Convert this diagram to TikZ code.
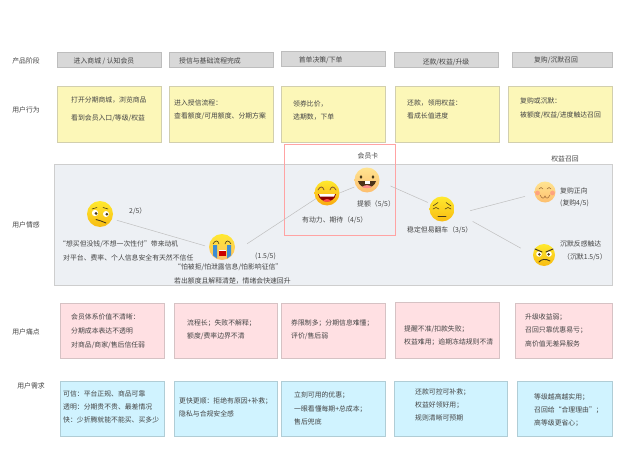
\documentclass[tikz,border=0pt]{standalone}
\usepackage{fontspec}
\setmainfont{Noto Sans CJK SC}
\definecolor{phasefill}{HTML}{D8D8D8}
\definecolor{phaseline}{HTML}{BDBDBD}
\definecolor{yel}{HTML}{FCF7B8}
\definecolor{yelline}{HTML}{D2CFAE}
\definecolor{pnk}{HTML}{FFE0E3}
\definecolor{pnkline}{HTML}{D6C2C4}
\definecolor{blu}{HTML}{D0F3FF}
\definecolor{blueline}{HTML}{B0CDD6}
\definecolor{panel}{HTML}{EDF0F4}
\definecolor{panelline}{HTML}{CECECE}
\definecolor{redframe}{HTML}{FFA3A3}
\definecolor{ink}{HTML}{444444}
\definecolor{faceink}{HTML}{4A3A18}
\definecolor{ytop}{HTML}{FFE92E}
\definecolor{ybot}{HTML}{F8BC12}
\definecolor{ptop}{HTML}{FFE490}
\definecolor{pbot}{HTML}{FDBE6E}
\tikzset{
  x=1pt,y=-1pt,
  tagtext/.style={font=\fontsize{6.85}{8}\selectfont,text=ink,inner sep=0pt,anchor=west},
  ctext/.style={font=\fontsize{6.85}{8}\selectfont,text=ink,inner sep=0pt},
  boxphase/.style={draw=phaseline,fill=phasefill,line width=.7pt},
  boxyel/.style={draw=yelline,fill=yel,line width=.7pt},
  boxpnk/.style={draw=pnkline,fill=pnk,line width=.7pt},
  boxblu/.style={draw=blueline,fill=blu,line width=.7pt},
  conn/.style={draw=black!25,line width=.5pt},
  facebase/.style={circle,inner sep=0pt,outer sep=0pt,minimum size=#1},
  yface/.style={facebase=#1,top color=ytop,bottom color=ybot},
  pface/.style={facebase=#1,top color=ptop,bottom color=pbot},
  fline/.style={draw=faceink,line width=.6pt,line cap=round}
}
\begin{document}
\begin{tikzpicture}
\useasboundingbox (0,0) rectangle (620,449);
\fill[white] (0,0) rectangle (620,449);
% row labels
\node[ctext] (lphase) at (26,61) {产品阶段};
\node[ctext] (lact) at (26,110) {用户行为};
\node[ctext] (lemo) at (26,225) {用户情感};
\node[ctext] (lpain) at (26,332) {用户痛点};
\node[ctext] (lneed) at (31,386) {用户需求};
% phases
\draw[boxphase] (57,52.5) rectangle (161,67.5);
\draw[boxphase] (169,52.5) rectangle (273,67.5);
\draw[boxphase] (281,51) rectangle (385,66.7);
\draw[boxphase] (394,52.5) rectangle (498,67.5);
\draw[boxphase] (512,52.5) rectangle (612,67.5);
\node[ctext] (p1) at (104,61) {进入商城 / 认知会员};
\node[ctext] (p2) at (210,60.5) {授信与基础流程完成};
\node[ctext] (p3) at (320.7,60) {首单决策/下单};
\node[ctext] (p4) at (446,62) {还款/权益/升级};
\node[ctext] (p5) at (556,60.5) {复购/沉默召回};
% behaviour
\draw[boxyel] (57,86.7) rectangle (161,142);
\draw[boxyel] (169,86.7) rectangle (273,142);
\draw[boxyel] (281.5,86.7) rectangle (385.5,142);
\draw[boxyel] (395,86.7) rectangle (499,142);
\draw[boxyel] (508,86.7) rectangle (612,142);
\node[tagtext] (b1a) at (71,100) {打开分期商城，浏览商品};
\node[tagtext] (b1b) at (71,118) {看到会员入口/等级/权益};
\node[tagtext] (b2a) at (174,103) {进入授信流程：};
\node[tagtext] (b2b) at (174,116) {查看额度/可用额度、分期方案};
\node[tagtext] (b3a) at (293,104) {领券比价，};
\node[tagtext] (b3b) at (293,117) {选期数，下单};
\node[tagtext] (b4a) at (407,103) {还款，领用权益：};
\node[tagtext] (b4b) at (407,116) {看成长值进度};
\node[tagtext] (b5a) at (520,101) {复购或沉默：};
\node[tagtext] (b5b) at (520,115) {被额度/权益/进度触达召回};
% emotion panel
\draw[draw=panelline,fill=panel,line width=.7pt] (54.5,164.5) rectangle (612,285);
\draw[draw=redframe,line width=.8pt] (284.5,144.5) rectangle (395,235);
% faces
\node[yface=26] (f1) at (100,214) {};
\node[pface=26,top color=ytop] (f2) at (222,247) {};
\node[yface=25,top color=ytop,bottom color=ybot!90!red] (f3) at (327,193) {};
\node[pface=25] (f4) at (367,180) {};
\node[yface=25] (f5) at (442,209) {};
\node[pface=21] (f6) at (545,192) {};
\node[yface=22] (f7) at (544,255) {};
% connectors
\draw[conn,shorten <=5pt,shorten >=4pt] (f1.-22) -- (f2.180);
\draw[conn,shorten <=16pt] (f2.-25) -- (f3.207);
\draw[conn,shorten <=1pt,shorten >=2pt] (f3.0) -- (f4.210);
\draw[conn,shorten <=12pt,shorten >=3pt] (f4.-5) -- (f5.155);
\draw[conn,shorten <=18pt,shorten >=10pt] (f5.-30) -- (f6.190);
\draw[conn,shorten <=21pt,shorten >=14pt] (f5.-10) -- (f7.180);
% face 1: skeptical
\begin{scope}[shift={(f1)}]
  \fill[white] (-5,-1) circle (3.2) (6,0) circle (3);
  \fill[faceink] (-4,-.6) circle (1.6) (6.8,.2) circle (1.5);
  \draw[fline] (-8,-5) -- (-3,-6.5) (3,-6.5) -- (8,-5);
  \draw[fline,line width=.9pt] (-4,5.5) -- (1,7) -- (6,9);
\end{scope}
% face 2: crying
\begin{scope}[shift={(f2)}]
  \fill[cyan!60!blue!80] (-9,-2) -- (-5,-2) -- (-5,11.5) -- (-9,8.5) -- cycle;
  \fill[cyan!60!blue!80] (5,-2) -- (9,-2) -- (9,8.5) -- (5,11.5) -- cycle;
  \draw[fline] (-9,-3) .. controls (-7,-7) and (-4,-7) .. (-3,-3);
  \draw[fline] (3,-3) .. controls (4,-7) and (7,-7) .. (9,-3);
  \fill[red!80!black] (-3.5,2.5) rectangle (3.5,9);
  \fill[white] (-3.5,2.5) rectangle (3.5,4);
\end{scope}
% face 3: laughing
\begin{scope}[shift={(f3)}]
  \draw[fline,draw=brown!70!black,line width=.8pt] (-9,-3) .. controls (-7,-7) and (-4,-7) .. (-3,-3);
  \draw[fline,draw=brown!70!black,line width=.8pt] (3,-3) .. controls (4,-7) and (7,-7) .. (9,-3);
  \fill[red!55!black] (-9,1) .. controls (-7,11) and (7,11) .. (9,1) -- cycle;
  \fill[white] (-8,1) -- (8,1) -- (7,3.5) -- (-7,3.5) -- cycle;
  \fill[red!70!white] (-4,8) .. controls (-2,5.5) and (2,5.5) .. (4,8) .. controls (2,9) and (-2,9) .. (-4,8) -- cycle;
\end{scope}
% face 4: grin
\begin{scope}[shift={(f4)}]
  \fill[faceink] (-6,-3) ellipse (1.4 and 1.9) (6,-3) ellipse (1.4 and 1.9);
  \fill[brown!40!black] (-9,1) .. controls (-7,10) and (7,10) .. (9,1) -- cycle;
  \fill[white] (-2.5,1) rectangle (2.5,4);
  \fill[red!45!white] (-5,7) .. controls (-2,4.5) and (2,4.5) .. (5,7) .. controls (2,8.5) and (-2,8.5) .. (-5,7) -- cycle;
\end{scope}
% face 5: weary
\begin{scope}[shift={(f5)}]
  \draw[fline] (-9,-3) -- (-4,-6.5) (4,-6.5) -- (9,-3);
  \draw[fline] (-9,0) .. controls (-7,-2) and (-5,-2) .. (-3,0);
  \draw[fline] (3,0) .. controls (5,-2) and (7,-2) .. (9,0);
  \draw[fline] (-4,7.5) -- (4,7.5);
\end{scope}
% face 6: blushing
\begin{scope}[shift={(f6)}]
  \fill[red!50!white,opacity=.55] (-7.5,1) circle (2.4) (7.5,1) circle (2.4);
  \draw[fline,draw=brown!80!black,line width=.5pt] (-6,-3) .. controls (-5,-5) and (-3,-5) .. (-2,-3);
  \draw[fline,draw=brown!80!black,line width=.5pt] (2,-3) .. controls (3,-5) and (5,-5) .. (6,-3);
  \draw[fline,draw=brown!80!black,line width=.5pt] (-5,3) .. controls (-3,7) and (-1,7) .. (0,4) .. controls (1,7) and (3,7) .. (5,3);
\end{scope}
% face 7: angry
\begin{scope}[shift={(f7)}]
  \fill[white] (-5,-1) circle (2.8) (5,-1) circle (2.8);
  \fill[faceink] (-4.6,-.6) circle (1.4) (4.6,-.6) circle (1.4);
  \draw[fline,line width=1pt] (-9,-6) -- (-2,-3) (9,-6) -- (2,-3);
  \draw[fline,line width=.9pt] (-5,7) .. controls (-3,4) and (2,3.5) .. (6,6);
\end{scope}
% emotion text
\node[tagtext] (e1) at (129,211) {2/5）};
\node[tagtext] (e2) at (59,244) {“想买但没钱/不想一次性付”带来动机};
\node[tagtext] (e3) at (63,258) {对平台、费率、个人信息安全有天然不信任};
\node[tagtext] (e4) at (255,256) {(1.5/5)};
\node[tagtext] (e5) at (174,267) {“怕被拒/怕泄露信息/怕影响征信”};
\node[tagtext] (e6) at (174,281) {若出额度且解释清楚，情绪会快速回升};
\node[ctext] (e7) at (368,156) {会员卡};
\node[tagtext] (e8) at (357,204) {提额（5/5）};
\node[tagtext] (e9) at (302,220) {有动力、期待（4/5）};
\node[tagtext] (e10) at (407,230) {稳定但易翻车（3/5）};
\node[ctext] (e11) at (565,159) {权益召回};
\node[tagtext] (e12) at (560,191) {复购正向};
\node[tagtext] (e13) at (560,203) {(复购4/5)};
\node[tagtext] (e14) at (560,244) {沉默反感触达};
\node[tagtext] (e15) at (563,257) {（沉默1.5/5）};
% pain
\draw[boxpnk] (60,303) rectangle (164,358);
\draw[boxpnk] (174,303) rectangle (277,358);
\draw[boxpnk] (281,303) rectangle (385,358);
\draw[boxpnk] (395,302.7) rectangle (499,358);
\draw[boxpnk] (515,303) rectangle (612,358);
\node[tagtext] (s1a) at (71,317) {会员体系价值不清晰：};
\node[tagtext] (s1b) at (71,331) {分期成本表达不透明};
\node[tagtext] (s1c) at (71,345) {对商品/商家/售后信任弱};
\node[tagtext] (s2a) at (187,323) {流程长；失败不解释；};
\node[tagtext] (s2b) at (187,336) {额度/费率边界不清};
\node[tagtext] (s3a) at (291,323) {券限制多；分期信息难懂；};
\node[tagtext] (s3b) at (291,336) {评价/售后弱};
\node[tagtext] (s4a) at (404,329) {提醒不准/扣款失败；};
\node[tagtext] (s4b) at (404,342) {权益难用；逾期冻结规则不清};
\node[tagtext] (s5a) at (525,317) {升级收益弱；};
\node[tagtext] (s5b) at (525,330) {召回只靠优惠易亏；};
\node[tagtext] (s5c) at (525,344) {高价值无差异服务};
% needs
\draw[boxblu] (60,381) rectangle (164,436);
\draw[boxblu] (174,381) rectangle (277,436);
\draw[boxblu] (281,381) rectangle (385,436);
\draw[boxblu] (394,381) rectangle (507,436);
\draw[boxblu] (517,381) rectangle (612,436);
\node[tagtext] (n1a) at (63,394) {可信：平台正规、商品可靠};
\node[tagtext] (n1b) at (63,407) {透明：分期贵不贵、最差情况};
\node[tagtext] (n1c) at (63,420) {快：少折腾就能不能买、买多少};
\node[tagtext] (n2a) at (179,401) {更快更顺：拒绝有原因+补救；};
\node[tagtext] (n2b) at (179,414) {隐私与合规安全感};
\node[tagtext] (n3a) at (294,395) {立刻可用的优惠；};
\node[tagtext] (n3b) at (294,409) {一眼看懂每期+总成本；};
\node[tagtext] (n3c) at (294,422) {售后兜底};
\node[tagtext] (n4a) at (415,392) {还款可控可补救；};
\node[tagtext] (n4b) at (415,405) {权益好领好用；};
\node[tagtext] (n4c) at (415,418) {规则清晰可预期};
\node[tagtext] (n5a) at (534,397) {等级越高越实用；};
\node[tagtext] (n5b) at (534,410) {召回给“合理理由”；};
\node[tagtext] (n5c) at (534,423) {高等级更省心；};
\end{tikzpicture}
\end{document}
